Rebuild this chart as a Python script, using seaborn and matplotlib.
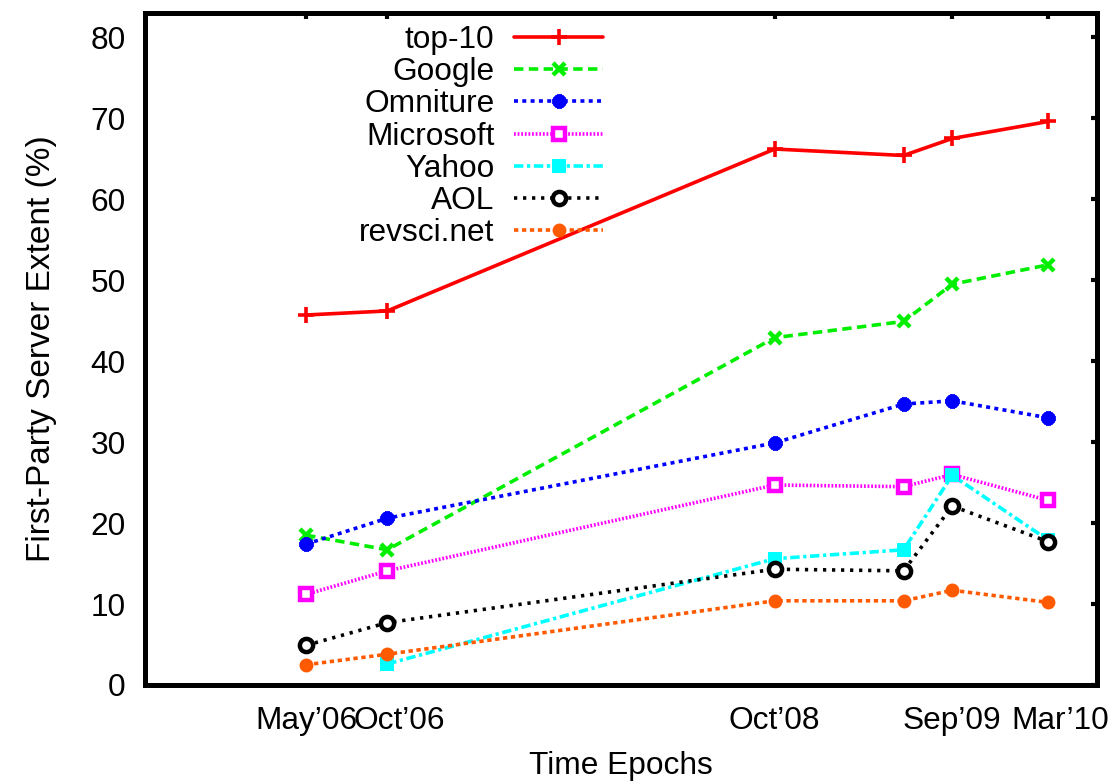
import numpy as np
import pandas as pd
import matplotlib
matplotlib.use("Agg")
import matplotlib.pyplot as plt
import matplotlib.transforms as mtransforms
import seaborn as sns

# Measurement epochs (first day of month) and the labelled subset
epochs = ["2006-05-01", "2006-10-01", "2008-10-01", "2009-06-01", "2009-09-01", "2010-03-01"]
tick_epochs = ["2006-05-01", "2006-10-01", "2008-10-01", "2009-09-01", "2010-03-01"]
tick_labels = ["May\u201906", "Oct\u201906", "Oct\u201908", "Sep\u201909", "Mar\u201910"]

# First-party server extent (%) per tracker family
top10 = [45.7, 46.2, 66.2, 65.4, 67.5, 69.6]
google = [18.5, 16.7, 42.9, 44.9, 49.5, 51.9]
omniture = [17.4, 20.6, 29.9, 34.7, 35.1, 33.0]
microsoft = [11.2, 14.1, 24.7, 24.5, 26.0, 22.8]
yahoo = [np.nan, 2.6, 15.6, 16.7, 25.9, 17.9]
aol = [4.9, 7.7, 14.3, 14.1, 22.1, 17.7]
revsci = [2.5, 3.8, 10.4, 10.4, 11.7, 10.2]

series_names = ["top-10", "Google", "Omniture", "Microsoft", "Yahoo", "AOL", "revsci.net"]
series_values = [top10, google, omniture, microsoft, yahoo, aol, revsci]

frames = []
for name, vals in zip(series_names, series_values):
    frames.append(pd.DataFrame({"epoch": pd.to_datetime(epochs), "extent": vals, "family": name}))
df = pd.concat(frames, ignore_index=True).dropna()

sns.set_theme(style="white")
plt.rcParams["font.family"] = ["Liberation Sans", "DejaVu Sans"]
for key in ("text.color", "axes.labelcolor", "xtick.color", "ytick.color", "axes.edgecolor"):
    plt.rcParams[key] = "black"
FS = 22.8

LW = 2.6
styles = {
    "top-10":     dict(color="#ff0000", linestyle="-", marker="+", markersize=11,
                       markeredgewidth=2.6, markeredgecolor="#ff0000"),
    "Google":     dict(color="#00ee00", linestyle=(0, (2.6, 1.5)), marker="x", markersize=9,
                       markeredgewidth=3.2, markeredgecolor="#00ee00"),
    "Omniture":   dict(color="#0000ff", linestyle=(0, (1.1, 1.2)), marker=(8, 2, 0), markersize=10,
                       markeredgewidth=3.6, markeredgecolor="#0000ff"),
    "Microsoft":  dict(color="#ff00ff", linestyle=(0, (0.5, 0.5)), marker="s", markersize=9,
                       markeredgewidth=3.2, markeredgecolor="#ff00ff", markerfacecolor="white"),
    "Yahoo":      dict(color="#00ffff", linestyle=(0, (2.6, 1.0, 0.9, 1.0)), marker="s", markersize=10,
                       markeredgewidth=0, markeredgecolor="#00ffff"),
    "AOL":        dict(color="#000000", linestyle=(0, (0.9, 1.6)), marker="o", markersize=9.5,
                       markeredgewidth=3.2, markeredgecolor="#000000", markerfacecolor="white"),
    "revsci.net": dict(color="#ff5a00", linestyle=(0, (1.2, 1.0)), marker="o", markersize=10,
                       markeredgewidth=0, markeredgecolor="#ff5a00"),
}

fig = plt.figure(figsize=(11.15, 7.82), dpi=100)
W, H = 1115, 782
ax = fig.add_axes([145 / W, 1 - 685 / H, (1097 - 145) / W, (685 - 13) / H])

for name in series_names:
    sub = df[df["family"] == name]
    sns.lineplot(data=sub, x="epoch", y="extent", ax=ax, label=name,
                 linewidth=LW, **styles[name])

ax.set_xlim(pd.Timestamp("2005-07-01"), pd.Timestamp("2010-06-01"))
ax.set_ylim(0, 83)
ax.set_xticks(pd.to_datetime(tick_epochs))
ax.set_xticklabels(tick_labels)
ax.set_yticks(range(0, 81, 10))
ax.minorticks_off()

for sp in ax.spines.values():
    sp.set_visible(True)
    sp.set_linewidth(3.6)
    sp.set_color("black")

ax.tick_params(axis="both", which="major", direction="in", length=4.5, width=3,
               top=True, right=True, labelsize=FS, colors="black")
ax.tick_params(axis="x", pad=15)
ax.tick_params(axis="y", pad=14)

# nudge the second and last month labels right so neighbours don't collide
nudge = mtransforms.ScaledTranslation(12 / 100, 0, fig.dpi_scale_trans)
for lbl in ax.get_xticklabels():
    if lbl.get_text() in ("Oct\u201906", "Mar\u201910"):
        lbl.set_transform(lbl.get_transform() + nudge)

ax.set_xlabel("Time Epochs", fontsize=FS, labelpad=11)
ax.set_ylabel("First-Party Server Extent (%)", fontsize=24, labelpad=24)

handles, labels = ax.get_legend_handles_labels()
ax.legend(handles, labels, loc="upper right", bbox_to_anchor=(603 / W, 1 - 25 / H),
          bbox_transform=fig.transFigure, frameon=False, markerfirst=False,
          fontsize=FS, handlelength=2.8, handletextpad=0.63, labelspacing=0.07,
          borderpad=0, borderaxespad=0)

fig.savefig("out.png", dpi=100, facecolor="white")
